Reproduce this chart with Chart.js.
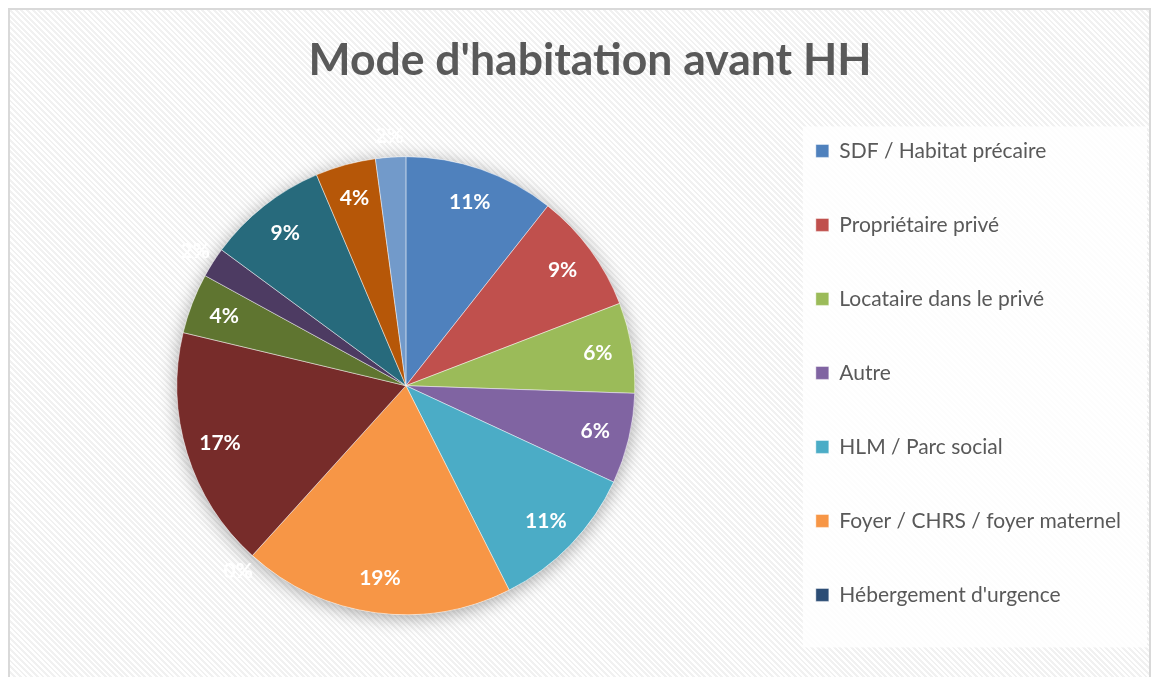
<!DOCTYPE html>
<html>
<head>
<meta charset="utf-8">
<script src="https://cdn.jsdelivr.net/npm/chart.js@4"></script>
<style>
  html, body { margin: 0; padding: 0; overflow: hidden; background: #fff; }
  #wrap { position: relative; width: 1151px; height: 700px; }
  #frame {
    position: absolute; left: 8px; top: 8px; width: 1139px; height: 700px;
    border: 2px solid #d9d9d9;
    background: repeating-linear-gradient(45deg, #fff 0 2px, #f1f1f1 2px 4px);
  }
  canvas { position: absolute; left: 0; top: 0; }
</style>
</head>
<body>
<div id="wrap">
  <div id="frame"></div>
  <canvas id="c" width="1151" height="700"></canvas>
</div>
<script>
const labels = [
  "SDF / Habitat précaire",
  "Propriétaire privé",
  "Locataire dans le privé",
  "Autre",
  "HLM / Parc social",
  "Foyer / CHRS / foyer maternel",
  "Hébergement d'urgence",
  "Hébergé chez un tiers",
  "Hôtel",
  "Résidence sociale",
  "Hébergé par la famille",
  "Logement temporaire",
  "Non renseigné",
];
const counts = [5, 4, 3, 3, 5, 9, 0, 8, 2, 1, 4, 2, 1];
const colors = [
  "#4F81BD", "#C0504D", "#9BBB59", "#8064A2", "#4BACC6", "#F79646", "#2C4D75",
  "#772C2A", "#5F7530", "#4D3B62", "#276A7C", "#B65708", "#729ACA",
];
const LEGEND_ITEMS = 7; // the legend only has room for the first 7

const total = counts.reduce((a, b) => a + b, 0);
const pct = (v) => Math.round((v / total) * 100) + "%";

// white panel behind the legend
const legendBox = {
  id: "legendBox",
  beforeDraw(chart) {
    const boxes = chart.legend.legendHitBoxes;
    if (!boxes || !boxes.length) return;
    const first = boxes[0], last = boxes[boxes.length - 1];
    const x = first.left - 13, y = first.top - 14;
    const ctx = chart.ctx;
    ctx.save();
    ctx.fillStyle = "rgba(255,255,255,0.85)";
    ctx.fillRect(x, y, chart.width - 4 - x, last.top + last.height + 42 - y);
    ctx.restore();
  },
};

// soft shadow under the pie
const pieShadow = {
  id: "pieShadow",
  beforeDatasetsDraw(chart) {
    const arc = chart.getDatasetMeta(0).data[0];
    if (!arc) return;
    const ctx = chart.ctx;
    ctx.save();
    ctx.shadowColor = "rgba(0,0,0,0.35)";
    ctx.shadowBlur = 18;
    ctx.shadowOffsetY = 3;
    ctx.fillStyle = "#fff";
    ctx.beginPath();
    ctx.arc(arc.x, arc.y, arc.outerRadius, 0, Math.PI * 2);
    ctx.fill();
    ctx.restore();
  },
};

// percentage labels, small slices go outside
const sliceLabels = {
  id: "sliceLabels",
  afterDatasetsDraw(chart) {
    const ctx = chart.ctx;
    ctx.save();
    ctx.font = "bold 21px Lato";
    ctx.fillStyle = "#fff";
    ctx.textAlign = "center";
    ctx.textBaseline = "middle";
    chart.getDatasetMeta(0).data.forEach((arc, i) => {
      const v = counts[i];
      const mid = (arc.startAngle + arc.endAngle) / 2;
      const r = v / total < 0.03 ? arc.outerRadius + 21 : arc.outerRadius * 0.85;
      ctx.fillText(pct(v), arc.x + Math.cos(mid) * r, arc.y + Math.sin(mid) * r);
    });
    ctx.restore();
  },
};

new Chart(document.getElementById("c"), {
  type: "pie",
  data: {
    labels,
    datasets: [{
      data: counts,
      backgroundColor: colors,
      borderColor: "rgba(255,255,255,0.45)",
      borderWidth: 1,
      radius: 229,
    }],
  },
  options: {
    responsive: false,
    animation: false,
    layout: { padding: { left: 49, right: 20, top: 0, bottom: 16 } },
    plugins: {
      title: {
        display: true,
        text: "Mode d'habitation avant HH",
        color: "#595959",
        font: { family: "Lato", size: 44.5, weight: "bold" },
        padding: { top: 34, bottom: 0 },
      },
      legend: {
        position: "right",
        align: "start",
        fullSize: false,
        labels: {
          filter: (item) => item.index < LEGEND_ITEMS,
          boxWidth: 13,
          boxHeight: 13,
          padding: 53,
          color: "#595959",
          font: { family: "Lato", size: 21 },
        },
      },
      tooltip: { enabled: false },
    },
  },
  plugins: [legendBox, pieShadow, sliceLabels],
});
</script>
</body>
</html>
